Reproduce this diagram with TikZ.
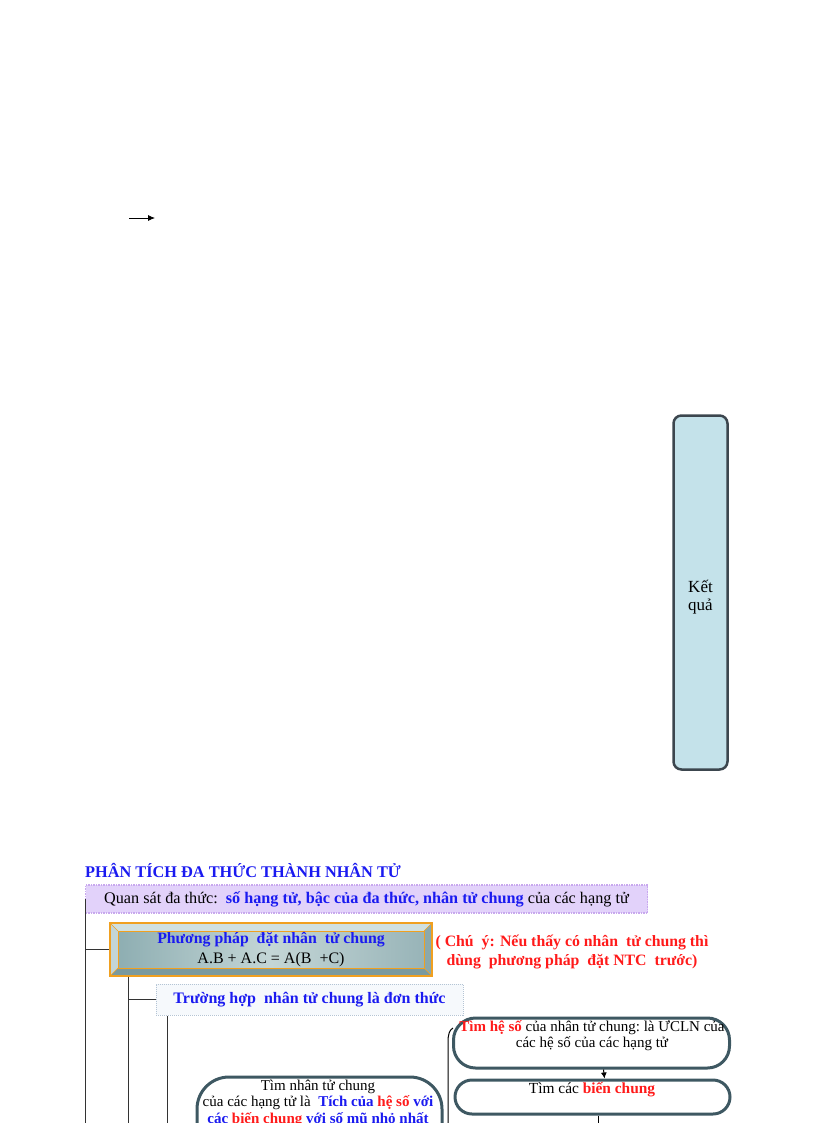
\documentclass[tikz,border=0pt]{standalone}
\usepackage{fontspec}
\setmainfont{Liberation Serif}
\usetikzlibrary{arrows.meta}
\definecolor{tblue}{HTML}{1A1AF0}
\definecolor{tred}{HTML}{FF1A1A}
\definecolor{lav}{HTML}{E2D2FA}
\definecolor{lavb}{HTML}{C8A8EE}
\definecolor{kqfill}{HTML}{C4E2EA}
\definecolor{kqdraw}{HTML}{3C464E}
\definecolor{ppor}{HTML}{F0A020}
\definecolor{ppL}{HTML}{8EAEB2}
\definecolor{ppM}{HTML}{C4D6D6}
\definecolor{ppR}{HTML}{98B4B8}
\definecolor{ppLight}{HTML}{D0E0E0}
\definecolor{ppDark}{HTML}{7A9A9E}
\definecolor{ovdraw}{HTML}{3E5862}
\definecolor{thfill}{HTML}{F6F9FC}
\definecolor{thdraw}{HTML}{B4C4D4}
\tikzset{
  fs/.style={font=\fontsize{16.2}{18}\selectfont},
  tree/.style={draw=black!80, line width=1.3pt},
  kqbox/.style={draw=kqdraw, line width=2.5pt, fill=kqfill, rounded corners=8pt,
    minimum width=54pt, minimum height=354pt},
  qsbox/.style={draw=lavb, densely dotted, line width=1.5pt, fill=lav, minimum width=562pt,
    minimum height=28pt, inner sep=0pt},
  thbox/.style={draw=thdraw, densely dotted, line width=1pt, fill=thfill, minimum width=307pt,
    minimum height=31pt, inner sep=0pt},
  ovbox/.style={draw=ovdraw, line width=3pt, fill=white},
  txt/.style={inner sep=0pt, align=center, font=\fontsize{15}{16.5}\selectfont},
  conn/.style={draw=black, line width=1pt},
}
\begin{document}
\begin{tikzpicture}[x=1pt,y=-1pt]
\useasboundingbox (0,0) rectangle (816,1123);
\clip (0,0) rectangle (816,1123);

% small arrow
\coordinate (a1) at (129,218);
\coordinate (a2) at (155,218);
\draw[-{Latex[length=7pt,width=6pt]}, line width=0.8pt] (a1) -- (a2);

% Ket qua
\node[kqbox] (kq) at (700.5,592.5) {};
\node[txt, font=\fontsize{17}{18}\selectfont] (kqt) at (700.5,597.5) {Kết\\quả};

% title
\node[anchor=west, inner sep=0pt, text=tblue, font=\fontsize{16.3}{18}\selectfont\bfseries] (title) at (85,870)
  {PHÂN TÍCH ĐA THỨC THÀNH NHÂN TỬ};

% Quan sat
\node[qsbox, fs] (qs) at (366.5,899)
  {Quan sát đa thức:\ \ {\bfseries\color{tblue}số hạng tử, bậc của đa thức, nhân tử chung}\ của các hạng tử};

% Phuong phap box
\node[draw=ppor, line width=1.3pt, fill=ppLight, minimum width=322pt, minimum height=53pt, inner sep=0pt,
  align=center,
  path picture={
    \coordinate (pNW) at (path picture bounding box.north west);
    \coordinate (pNE) at (path picture bounding box.north east);
    \coordinate (pSW) at (path picture bounding box.south west);
    \coordinate (pSE) at (path picture bounding box.south east);
    \fill[ppDark] (pSW) -- (pSE) -- ([shift={(-8,-8)}]pSE) -- ([shift={(8,-8)}]pSW) -- cycle;
    \fill[ppDark!80!ppLight] (pNE) -- (pSE) -- ([shift={(-8,-8)}]pSE) -- ([shift={(-8,8)}]pNE) -- cycle;
    \fill[ppLight!85!ppDark] (pNW) -- (pSW) -- ([shift={(8,-8)}]pSW) -- ([shift={(8,8)}]pNW) -- cycle;
    \shade[left color=ppL, right color=ppR, middle color=ppM] ([shift={(8,8)}]pNW) rectangle ([shift={(-8,-8)}]pSE);
    \draw[ppor, line width=0.8pt] ([shift={(8,8)}]pNW) rectangle ([shift={(-8,-8)}]pSE);
    \draw[ppor, line width=0.6pt] (pNW) -- ([shift={(8,8)}]pNW) (pNE) -- ([shift={(-8,8)}]pNE)
      (pSW) -- ([shift={(8,-8)}]pSW) (pSE) -- ([shift={(-8,-8)}]pSE);
  }] (pp) at (271,949.5)
  {{\fontsize{15.8}{18}\selectfont\bfseries\color{tblue}Phương pháp\ \ đặt nhân\ \ tử chung}\\[4pt]
   {\fontsize{16}{18}\selectfont A.B + A.C = A(B\ \ +C)}};

% note
\node[inner sep=0pt, align=center, text=tred, font=\fontsize{15.8}{19}\selectfont\bfseries] (note) at (572,952)
  {( Chú\ \ ý: Nếu thấy có nhân\ \ tử chung thì\\dùng\ \ phương pháp\ \ đặt NTC\ \ trước)};

% Truong hop box
\node[thbox, text=tblue, font=\fontsize{16}{18}\selectfont\bfseries] (th) at (309.5,999.5)
  {Trường hợp\ \ nhân tử chung là đơn thức};

% tree lines
\coordinate (bot) at (0,1130);
\draw[tree] ([xshift=0.5pt]qs.west) -- ([xshift=0.5pt]qs.west |- bot);
\draw[tree] ([xshift=0.5pt]qs.west |- pp.west) -- (pp.west);
\draw[tree] ([xshift=19pt]pp.south west) coordinate (v2) -- (v2 |- bot);
\draw[tree] (v2 |- th.west) -- (th.west);
\draw[tree] ([xshift=12pt]th.south west) coordinate (v3) -- (v3 |- bot);

% left oval
\draw[ovbox, rounded corners=32pt] (197,1077) coordinate (lo) rectangle (442,1190);
\node[txt] (lot) at (318,1103)
  {Tìm nhân tử chung\\
   của các hạng tử là\ \ {\bfseries\color{tblue}Tích của} {\bfseries\color{tred}hệ số} {\bfseries\color{tblue}với}\\
   {\bfseries\color{tblue}các} {\bfseries\color{tred}biến chung} {\bfseries\color{tblue}với số mũ nhỏ nhất}};

% bracket
\coordinate (br1) at (453,1028);
\coordinate (br2) at (448,1042);
\draw[black, line width=1pt] (br1) .. controls (449.5,1030) and (448,1034) .. (br2) -- (br2 |- bot);

% right boxes
\node[ovbox, rounded corners=22pt, minimum width=276pt, minimum height=50pt] (rb1) at (591.5,1043) {};
\node[txt] (rb1t) at (592,1035.5)
  {{\bfseries\color{tred}Tìm hệ số} của nhân tử chung:\ là ƯCLN của\\các hệ số của các hạng tử};
\node[ovbox, rounded corners=17pt, minimum width=275pt, minimum height=34pt] (rb2) at (592.5,1097) {};
\node[txt, font=\fontsize{15.4}{17}\selectfont] (rb2t) at (592,1090) {Tìm các {\bfseries\color{tred}biến chung}};
\draw[conn, -{Latex[length=6pt,width=6pt]}] ([xshift=12pt]rb1.south) -- ([xshift=12pt]rb2.north);
\draw[conn] ([xshift=6pt]rb2.south) -- ([xshift=6pt]rb2.south |- bot);
\end{tikzpicture}
\end{document}
